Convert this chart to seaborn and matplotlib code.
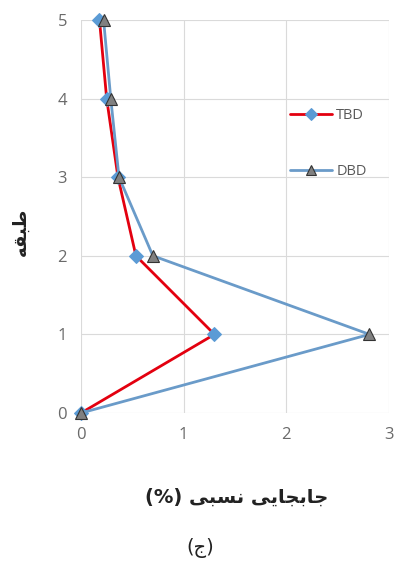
import matplotlib
matplotlib.use("Agg")
import matplotlib.pyplot as plt
import seaborn as sns
import pandas as pd

floors = [0, 1, 2, 3, 4, 5]
tbd = [0.0, 1.30, 0.535, 0.36, 0.25, 0.18]
dbd = [0.0, 2.81, 0.70, 0.37, 0.29, 0.22]
xticks = [0, 1, 2, 3]
yticks = [0, 1, 2, 3, 4, 5]

# Persian text in visual order with presentation forms (matplotlib does no shaping)
xlabel_txt = "(%) " + "\uFEF0\uFE92\uFEB4\uFEE7" + " " + "\uFEF0\uFEF3\uFE8E\uFEA0\uFE91\uFE8E\uFE9F"
ylabel_txt = "\uFEEA\uFED8\uFE92\uFEC3"
caption_txt = "(\uFE9D)"

sns.set_theme(style="white")
plt.rcParams['font.family'] = ['DejaVu Sans']

fig = plt.figure(figsize=(3.98, 5.76), dpi=100)
ax = fig.add_axes([81/398, 1-413/576, (389-81)/398, (413-20)/576])

df_t = pd.DataFrame({"x": tbd, "y": floors})
df_d = pd.DataFrame({"x": dbd, "y": floors})

sns.lineplot(data=df_t, x="x", y="y", sort=False, estimator=None, ax=ax,
             color="#E3000F", linewidth=2.0, marker="D", markersize=7,
             markerfacecolor="#5B9BD5", markeredgecolor="#5B9BD5", label="TBD",
             clip_on=False, zorder=3)
sns.lineplot(data=df_d, x="x", y="y", sort=False, estimator=None, ax=ax,
             color="#6A9BC9", linewidth=2.0, marker="^", markersize=9,
             markerfacecolor="#808080", markeredgecolor="#333333", markeredgewidth=0.8,
             label="DBD", clip_on=False, zorder=4)

ax.set_xlim(0, 3)
ax.set_ylim(0, 5)
ax.set_xticks(xticks)
ax.set_yticks(yticks)
ax.set_xticklabels([str(v) for v in xticks])
ax.set_yticklabels([str(v) for v in yticks])
ax.grid(True, color="#DADADA", linewidth=0.8)
ax.set_axisbelow(True)
for s in ax.spines.values():
    s.set_visible(False)
ax.tick_params(axis="both", length=0, labelsize=12, colors="#6A6A6A", pad=10)
for lab in ax.get_xticklabels() + ax.get_yticklabels():
    lab.set_fontfamily(["Open Sans", "DejaVu Sans"])

ax.set_xlabel("")
ax.set_ylabel("")
fig.text(237/398, 1-497/576, xlabel_txt, ha="center", va="center", fontsize=14,
         fontweight="bold", color="#222222")
fig.text(21/398, 1-232/576, ylabel_txt, ha="center", va="center", fontsize=13,
         fontweight="bold", rotation=90, color="#222222")
fig.text(200/398, 1-548/576, caption_txt, ha="center", va="center", fontsize=14,
         color="#222222")

leg = ax.legend(loc="upper left", bbox_to_anchor=(0.635, 0.81), frameon=False,
                handlelength=2.9, labelspacing=2.8, fontsize=10.5, handletextpad=0.3,
                markerscale=0.85)
for t in leg.get_texts():
    t.set_color("#595959")
    t.set_fontfamily(["Open Sans", "DejaVu Sans"])

fig.savefig("out.png", dpi=100)
